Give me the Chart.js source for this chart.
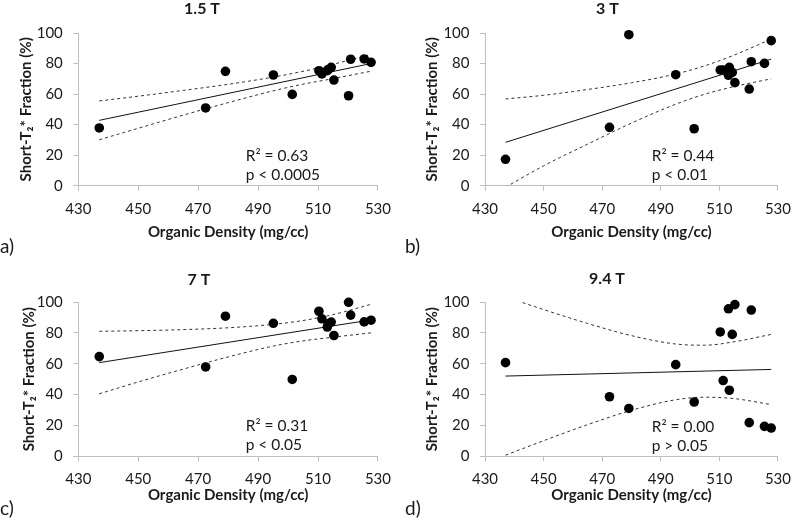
<!DOCTYPE html>
<html><head><meta charset="utf-8">
<script src="https://cdn.jsdelivr.net/npm/chart.js@4.4.1/dist/chart.umd.min.js"></script>
<style>
html,body{margin:0;padding:0;background:#fff;}
#wrap{position:relative;width:800px;height:523px;overflow:hidden;background:#fff;}
canvas{position:absolute;}
</style></head><body>
<div id="wrap">
<canvas id="ca" width="400" height="262" style="left:0;top:0"></canvas>
<canvas id="cb" width="400" height="262" style="left:400px;top:0"></canvas>
<canvas id="cc" width="400" height="261" style="left:0;top:262px"></canvas>
<canvas id="cd" width="400" height="261" style="left:400px;top:262px"></canvas>
</div>
<script>
// ---------- DATA ----------
const xTicks = [430, 450, 470, 490, 510, 530];
const yTicks = [0, 20, 40, 60, 80, 100];
const density = [437, 472.5, 479.1, 495.1, 501.4, 510.3, 511.3, 513.1, 513.4, 514.4, 515.3, 520.2, 520.9, 525.4, 527.7];
const fracA = [37.8, 50.9, 74.9, 72.5, 59.8, 75.3, 73.2, 75.3, 76.0, 77.5, 69.2, 58.9, 82.8, 83.0, 80.8];
const fracB = [17.3, 38.2, 98.9, 72.7, 37.3, 75.8, 75.8, 72.3, 77.5, 74.2, 67.5, 63.3, 81.2, 80.1, 95.0];
const fracC = [64.6, 57.9, 90.8, 86.2, 49.8, 94.0, 89.1, 83.8, 85.8, 87.0, 78.3, 99.8, 91.5, 87.1, 88.2];
const fracD = [60.7, 38.6, 31.0, 59.4, 35.2, 80.6, 49.1, 95.6, 42.8, 79.0, 98.3, 21.8, 94.8, 19.4, 18.3];
const fitX = [437, 527.7];
const fitA = [42.8, 80.0];
const fitB = [28.4, 82.9];
const fitC = [60.7, 88.4];
const fitD = [52.0, 56.3];
const bandX = [437, 450, 465, 480, 495, 505, 515, 527.7];
const upperA = [55.5, 58.6, 62.4, 66.4, 71.1, 74.9, 79.5, 86.0];
const lowerA = [30.1, 37.6, 46.2, 54.4, 62.1, 66.5, 70.1, 75.0];
const upperB = [56.8, 59.2, 63.0, 67.4, 73.1, 78.5, 85.5, 96.0];
const lowerB = [-1.0, 13.0, 27.2, 41.0, 53.3, 59.9, 64.9, 70.0];
const upperC = [81.0, 81.4, 82.1, 83.3, 85.5, 88.0, 91.8, 98.5];
const lowerC = [40.5, 48.2, 56.5, 64.4, 71.4, 74.8, 77.2, 80.0];
const upperD = [103.3, 95.1, 86.1, 78.2, 72.8, 72.0, 74.2, 79.0];
const lowerD = [0.7, 10.1, 20.5, 29.8, 36.6, 38.3, 37.4, 33.5];
const titles = ['1.5 T', '3 T', '7 T', '9.4 T'];
const panelLabels = ['a)', 'b)', 'c)', 'd)'];
const r2Text = ['R\u00B2 = 0.63', 'R\u00B2 = 0.44', 'R\u00B2 = 0.31', 'R\u00B2 = 0.00'];
const pText = ['p < 0.0005', 'p < 0.01', 'p < 0.05', 'p > 0.05'];
const xTitle = 'Organic Density (mg/cc)';
const yTitle = 'Short-T\u2082* Fraction (%)';

// ---------- LAYOUT (per panel) ----------
const layouts = [
  {id:'ca', W:400, H:262, l:78.3, r:381,   t:33, b:185.7, tx:202, ty:8.5,  yt:26,   xt:232.3, lx:0, ly:247, sx:245.7, sy:[155.7,175]},
  {id:'cb', W:400, H:262, l:85,   r:386.7, t:33, b:185.7, tx:207.5, ty:8.5, yt:31.7, xt:232.3, lx:5, ly:247, sx:251.7, sy:[155.7,175]},
  {id:'cc', W:400, H:261, l:78.3, r:381,   t:40, b:194.3, tx:199, ty:17.4, yt:29,   xt:233.5, lx:0, ly:247, sx:245.7, sy:[164,183.3]},
  {id:'cd', W:400, H:261, l:85,   r:386.7, t:40, b:194.3, tx:207, ty:16.7, yt:31.7, xt:233.5, lx:5, ly:247, sx:251.7, sy:[165,184.3]}
];
const series = [
  {y:fracA, fit:fitA, up:upperA, lo:lowerA},
  {y:fracB, fit:fitB, up:upperB, lo:lowerB},
  {y:fracC, fit:fitC, up:upperC, lo:lowerC},
  {y:fracD, fit:fitD, up:upperD, lo:lowerD}
];

const FONT = 'Lato, Carlito, "Open Sans", sans-serif';
const AXIS = '#bfbfbf';
const TEXT = '#1a1a1a';

function pts(xs, ys){ return xs.map((x,i)=>({x:x, y:ys[i]})); }

layouts.forEach((L, k) => {
  const S = series[k];
  const textPlugin = {
    id:'texts'+k,
    afterDraw(chart){
      const ctx = chart.ctx;
      ctx.save();
      ctx.fillStyle = TEXT;
      ctx.textBaseline = 'middle';
      ctx.textAlign = 'center';
      ctx.font = 'bold 16px ' + FONT;
      ctx.fillText(titles[k], L.tx, L.ty);
      ctx.textAlign = 'left';
      ctx.font = '15.5px ' + FONT;
      ctx.fillText(r2Text[k], L.sx, L.sy[0]);
      ctx.fillText(pText[k], L.sx, L.sy[1]);
      ctx.font = '19px ' + FONT;
      ctx.fillText(panelLabels[k], L.lx, L.ly);
      ctx.restore();
    }
  };
  new Chart(document.getElementById(L.id), {
    type:'scatter',
    data:{ datasets:[
      {data: pts(density, S.y), backgroundColor:'#000', borderWidth:0, pointRadius:4.8, clip:false, showLine:false},
      {type:'line', data: pts(fitX, S.fit), borderColor:'#111', borderWidth:1, pointRadius:0, fill:false},
      {type:'line', data: pts(bandX, S.up), borderColor:'#333', borderWidth:1, borderDash:[3,3], pointRadius:0, fill:false, cubicInterpolationMode:'monotone'},
      {type:'line', data: pts(bandX, S.lo), borderColor:'#333', borderWidth:1, borderDash:[3,3], pointRadius:0, fill:false, cubicInterpolationMode:'monotone'}
    ]},
    options:{
      responsive:false, animation:false, devicePixelRatio:1,
      layout:{ padding:{ top:L.t, right:L.W - L.r, left:0, bottom:0 } },
      plugins:{ legend:{display:false}, tooltip:{enabled:false}, title:{display:false} },
      scales:{
        x:{ type:'linear', min:xTicks[0], max:xTicks[xTicks.length-1],
            afterBuildTicks(s){ s.ticks = xTicks.map(v=>({value:v})); },
            afterFit(s){ s.height = L.H - L.b; },
            grid:{ drawOnChartArea:false, drawTicks:true, tickLength:5, color:AXIS },
            border:{ display:true, color:AXIS, width:1 },
            ticks:{ font:{family:FONT, size:15}, color:TEXT, padding:9, maxRotation:0 },
            title:{ display:true, text:xTitle, color:TEXT, font:{family:FONT, size:15, weight:'bold'},
                    padding:{top:0, bottom:(L.H - L.xt) - 9} } },
        y:{ type:'linear', min:yTicks[0], max:yTicks[yTicks.length-1],
            afterBuildTicks(s){ s.ticks = yTicks.map(v=>({value:v})); },
            afterFit(s){ s.width = L.l; },
            grid:{ drawOnChartArea:false, drawTicks:true, tickLength:5, color:AXIS },
            border:{ display:true, color:AXIS, width:1 },
            ticks:{ font:{family:FONT, size:15}, color:TEXT, padding:10.5 },
            title:{ display:true, text:yTitle, color:TEXT, font:{family:FONT, size:15, weight:'bold'},
                    padding:{top:L.yt - 9, bottom:0} } }
      }
    },
    plugins:[textPlugin]
  });
});
</script>
</body></html>
